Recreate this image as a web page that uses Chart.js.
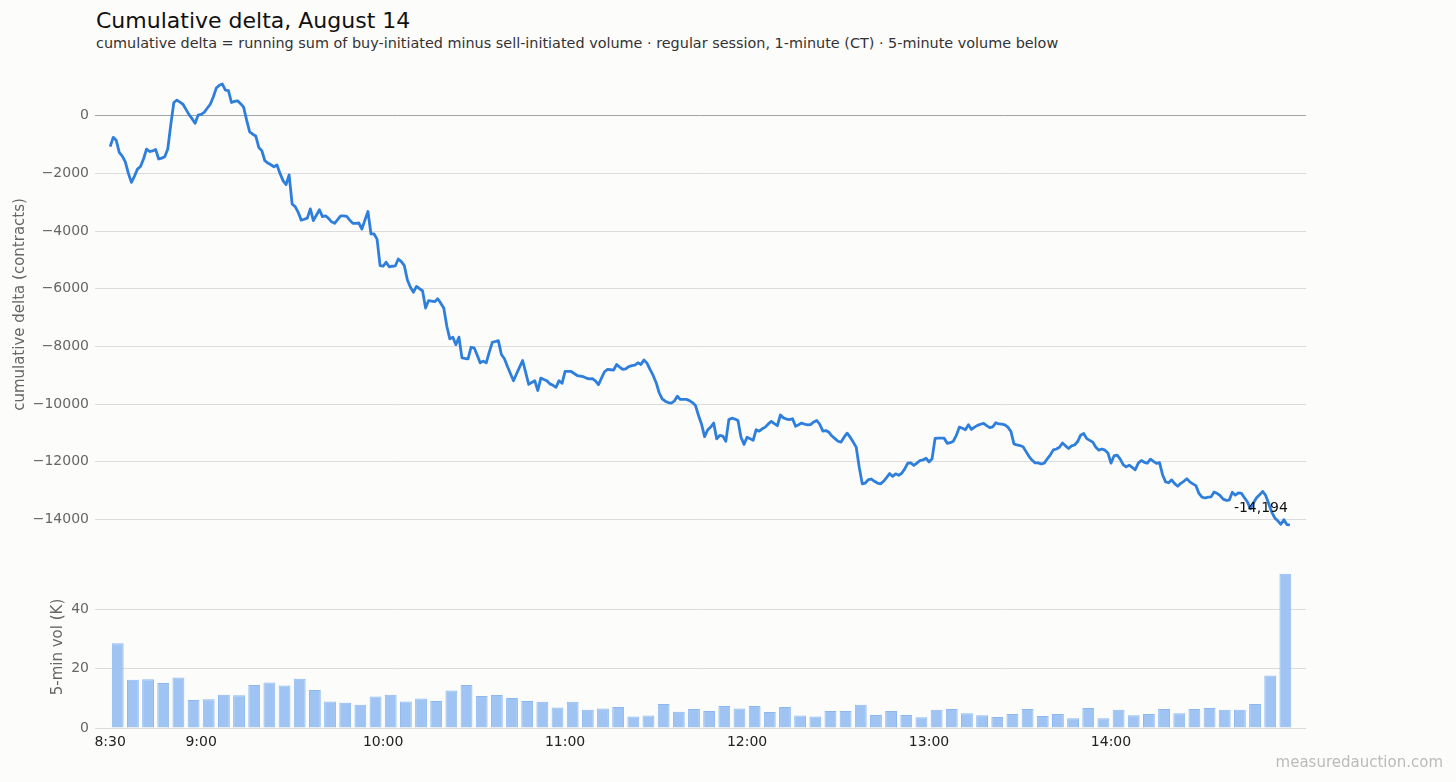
<!DOCTYPE html>
<html>
<head>
<meta charset="utf-8">
<title>Cumulative delta, August 14</title>
<script src="https://cdn.jsdelivr.net/npm/chart.js@4.4.1/dist/chart.umd.min.js"></script>
<style>
html,body{margin:0;padding:0;background:#fcfcfb;}
body{width:1456px;height:782px;position:relative;overflow:hidden;font-family:"DejaVu Sans",sans-serif;}
#title{position:absolute;left:96px;top:8px;font-size:22px;color:#111;white-space:nowrap;}
#subtitle{position:absolute;left:96px;top:35px;font-size:14.4px;color:#333;white-space:nowrap;}
#deltaChart{position:absolute;left:0;top:42px;}
#volChart{position:absolute;left:0;top:546px;}
#mark{position:absolute;right:13px;top:753px;font-size:15px;color:#bbb;}
</style>
</head>
<body>
<div id="title">Cumulative delta, August 14</div>
<div id="subtitle">cumulative delta = running sum of buy-initiated minus sell-initiated volume · regular session, 1-minute (CT) · 5-minute volume below</div>
<canvas id="deltaChart" width="1456" height="525"></canvas>
<canvas id="volChart" width="1456" height="236"></canvas>
<div id="mark">measuredauction.com</div>
<script>
// cumulative delta, one value per minute from 8:30 (minute 0) to 14:59 (minute 389)
const deltaValues = [
  -1070,-750,-850,-1270,-1400,-1600,-2000,-2310,-2100,-1850,
  -1760,-1500,-1160,-1240,-1220,-1170,-1500,-1470,-1420,-1150,
  -300,460,540,470,400,220,40,-100,-260,20,
  50,120,260,400,650,960,1060,1100,890,870,
  460,500,520,420,300,-150,-560,-640,-700,-1100,
  -1210,-1560,-1640,-1700,-1770,-1710,-2000,-2250,-2390,-2050,
  -3060,-3150,-3350,-3620,-3590,-3550,-3230,-3640,-3450,-3260,
  -3500,-3470,-3560,-3680,-3730,-3600,-3470,-3470,-3490,-3620,
  -3730,-3730,-3720,-3930,-3620,-3320,-4100,-4100,-4280,-5200,
  -5220,-5080,-5240,-5220,-5210,-4970,-5060,-5200,-5700,-5950,
  -6120,-5920,-6000,-6070,-6670,-6410,-6430,-6450,-6350,-6500,
  -6670,-7300,-7740,-7680,-7940,-7680,-8400,-8420,-8430,-8030,
  -8050,-8300,-8570,-8510,-8570,-8200,-7860,-7830,-7800,-8280,
  -8430,-8700,-8950,-9190,-8950,-8720,-8490,-8900,-9320,-9250,
  -9190,-9530,-9100,-9150,-9190,-9300,-9350,-9420,-9190,-9280,
  -8870,-8870,-8870,-8940,-9010,-9030,-9050,-9100,-9130,-9120,
  -9200,-9330,-9100,-8880,-8800,-8810,-8820,-8630,-8720,-8800,
  -8780,-8700,-8670,-8650,-8570,-8630,-8470,-8580,-8800,-9000,
  -9250,-9600,-9820,-9900,-9950,-9970,-9900,-9730,-9840,-9840,
  -9840,-9880,-9950,-10050,-10400,-10700,-11130,-10900,-10800,-10660,
  -11210,-11090,-11110,-11290,-10540,-10490,-10520,-10570,-11150,-11400,
  -11150,-11200,-11260,-10890,-10940,-10860,-10800,-10690,-10600,-10680,
  -10750,-10380,-10480,-10520,-10540,-10510,-10770,-10720,-10660,-10700,
  -10720,-10710,-10620,-10570,-10710,-10940,-10920,-10980,-11110,-11200,
  -11290,-11320,-11150,-11010,-11150,-11320,-11500,-12200,-12770,-12740,
  -12620,-12600,-12680,-12740,-12770,-12680,-12550,-12410,-12510,-12420,
  -12470,-12400,-12250,-12050,-12040,-12130,-12050,-11960,-11940,-11880,
  -12010,-11900,-11190,-11185,-11185,-11185,-11360,-11340,-11290,-11090,
  -10800,-10840,-10890,-10720,-10880,-10800,-10740,-10700,-10670,-10750,
  -10820,-10790,-10650,-10690,-10700,-10720,-10800,-10950,-11380,-11420,
  -11440,-11480,-11650,-11820,-11950,-12040,-12040,-12080,-12050,-11900,
  -11760,-11590,-11560,-11500,-11350,-11450,-11540,-11450,-11420,-11300,
  -11080,-11020,-11200,-11260,-11320,-11500,-11600,-11560,-11600,-11700,
  -12050,-11800,-11770,-11900,-12100,-12180,-12120,-12200,-12280,-12050,
  -11960,-12020,-12050,-11910,-11990,-12060,-12030,-12450,-12700,-12730,
  -12630,-12760,-12850,-12750,-12680,-12590,-12700,-12770,-12830,-13100,
  -13230,-13260,-13230,-13220,-13050,-13100,-13180,-13300,-13340,-13330,
  -13060,-13160,-13080,-13100,-13250,-13400,-13630,-13420,-13250,-13150,
  -13030,-13170,-13450,-13750,-13950,-14050,-14170,-14010,-14180,-14194
];
const deltaMinutes = deltaValues.map((v, i) => i);

// 5-minute volume in thousands, one bar per bin starting 8:30
const volValues = [
  28.5,16.2,16.4,15.1,17.0,9.4,9.7,11.2,11.0,14.5,
  15.3,14.3,16.6,12.8,8.9,8.5,7.8,10.6,11.2,8.9,
  9.9,9.1,12.6,14.5,10.8,11.1,10.1,9.1,8.8,6.9,
  8.8,6.1,6.6,7.1,3.9,4.2,8.1,5.5,6.4,5.7,
  7.4,6.6,7.4,5.4,7.1,4.2,3.9,5.7,5.7,7.8,
  4.4,5.7,4.4,3.6,6.1,6.4,5.0,4.3,3.7,4.7,
  6.4,4.0,4.7,3.3,6.7,3.3,6.1,4.3,4.7,6.4,
  5.0,6.4,6.7,6.1,6.1,8.1,17.7,51.9
];
const volMinutes = volValues.map((v, i) => i * 5 + 2.5); // bin centres

const timeTicks = [0, 30, 90, 150, 210, 270, 330];
const timeLabels = ['8:30', '9:00', '10:00', '11:00', '12:00', '13:00', '14:00'];
const deltaTicks = [-14000, -12000, -10000, -8000, -6000, -4000, -2000, 0];
const volTicks = [0, 20, 40];

Chart.defaults.font.family = '"DejaVu Sans", sans-serif';
Chart.defaults.font.size = 14;

const xMin = -5, xMax = 394.3;
const minusFmt = v => v < 0 ? '\u2212' + Math.abs(v) : String(v);

const dMin = Math.min(...deltaValues), dMax = Math.max(...deltaValues);
const dPad = (dMax - dMin) * 0.05;

// label the final reading next to the last point
const lastLabel = {
  id: 'lastLabel',
  afterDatasetsDraw(chart) {
    const meta = chart.getDatasetMeta(0);
    const pt = meta.data[meta.data.length - 1];
    const v = deltaValues[deltaValues.length - 1];
    const ctx = chart.ctx;
    ctx.save();
    ctx.font = '14px "DejaVu Sans", sans-serif';
    ctx.fillStyle = '#111';
    ctx.textAlign = 'right';
    ctx.textBaseline = 'alphabetic';
    ctx.fillText(v.toLocaleString('en-US'), pt.x - 2, pt.y - 13);
    ctx.restore();
  }
};

new Chart(document.getElementById('deltaChart'), {
  type: 'line',
  data: {
    datasets: [{
      data: deltaValues.map((v, i) => ({x: deltaMinutes[i], y: v})),
      borderColor: '#2e7fdc',
      borderWidth: 2.8,
      borderJoinStyle: 'round',
      pointRadius: 0,
      tension: 0
    }]
  },
  options: {
    responsive: false,
    animation: false,
    layout: {padding: {left: 0, right: 150, top: 20, bottom: 20}},
    plugins: {legend: {display: false}, tooltip: {enabled: false}},
    scales: {
      x: {type: 'linear', min: xMin, max: xMax, display: false},
      y: {
        min: dMin - dPad,
        max: dMax + dPad,
        afterFit: s => { s.width = 95; },
        afterBuildTicks: s => { s.ticks = deltaTicks.map(v => ({value: v})); },
        ticks: {padding: 6, color: '#666', callback: minusFmt},
        grid: {drawTicks: false, color: c => c.tick && c.tick.value === 0 ? '#a3a3a3' : '#dcdcdc'},
        border: {display: false},
        title: {display: true, text: 'cumulative delta (contracts)', color: '#666',
                font: {size: 15}, padding: {top: 11, bottom: 0}}
      }
    }
  },
  plugins: [lastLabel]
});

new Chart(document.getElementById('volChart'), {
  type: 'bar',
  data: {
    datasets: [{
      data: volValues.map((v, i) => ({x: volMinutes[i], y: v})),
      backgroundColor: '#9fc4f3',
      borderColor: '#8db8ef',
      borderWidth: 1,
      barPercentage: 0.78,
      categoryPercentage: 1
    }]
  },
  options: {
    responsive: false,
    animation: false,
    layout: {padding: {left: 38.5, right: 150, top: 20, bottom: 28}},
    plugins: {legend: {display: false}, tooltip: {enabled: false}},
    scales: {
      x: {
        type: 'linear', min: xMin, max: xMax, offset: false,
        afterBuildTicks: s => { s.ticks = timeTicks.map(v => ({value: v})); },
        afterFit: s => { s.height = 26; },
        ticks: {color: '#222', padding: -2, autoSkip: false, maxRotation: 0,
                callback: v => timeLabels[timeTicks.indexOf(v)]},
        grid: {display: false},
        border: {display: false}
      },
      y: {
        min: 0,
        max: Math.max(...volValues) * 1.05,
        afterFit: s => { s.width = 56.5; },
        afterBuildTicks: s => { s.ticks = volTicks.map(v => ({value: v})); },
        ticks: {padding: 6, color: '#666'},
        grid: {drawTicks: false, color: '#dcdcdc'},
        border: {display: false},
        title: {display: true, text: '5-min vol (K)', color: '#666',
                font: {size: 15}, padding: {top: 11, bottom: 0}}
      }
    }
  }
});
</script>
</body>
</html>
